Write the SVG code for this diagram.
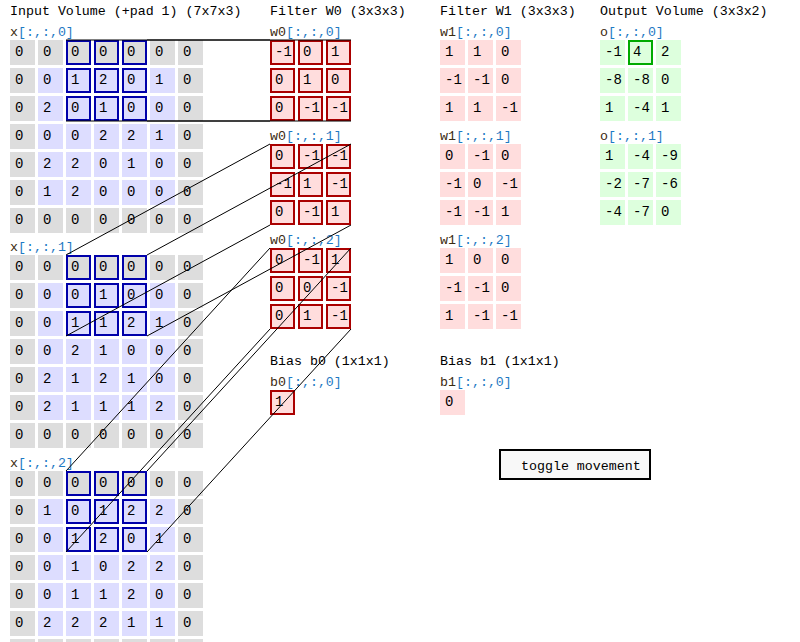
<svg xmlns="http://www.w3.org/2000/svg" width="800" height="642" viewBox="0 0 800 642">
<style>
.t{font-family:"Liberation Mono","DejaVu Sans Mono",monospace;font-size:14px;fill:#000}
.h{font-family:"Liberation Mono","DejaVu Sans Mono",monospace;font-size:13.3px;fill:#000}
.lb{font-family:"Liberation Mono","DejaVu Sans Mono",monospace;font-size:13.3px;fill:#1f7ac4}
.nm{fill:#3a2a10}
.p{fill:#ddd}.i{fill:#ddf}.f{fill:#fdd}.o{fill:#dfd}
.fr{fill:#fdd;stroke:#a00;stroke-width:2}
.hb{fill:none;stroke:#00a;stroke-width:2}
.hg{fill:none;stroke:#0a0;stroke-width:2}
.lk{stroke:#000;stroke-width:1;fill:none}
</style>
<rect width="800" height="642" fill="#fff"/>
<text class="h" x="10" y="15">Input Volume (+pad 1) (7x7x3)</text>
<text class="h" x="270" y="15">Filter W0 (3x3x3)</text>
<text class="h" x="440" y="15">Filter W1 (3x3x3)</text>
<text class="h" x="600" y="15">Output Volume (3x3x2)</text>

<g id="x0">
<text class="lb" x="10" y="36"><tspan class="nm">x</tspan>[:,:,0]</text>
<g transform="translate(10,40)">
<rect class="p" x="0" y="0" width="25" height="25"/><rect class="p" x="28" y="0" width="25" height="25"/><rect class="p" x="56" y="0" width="25" height="25"/><rect class="p" x="84" y="0" width="25" height="25"/><rect class="p" x="112" y="0" width="25" height="25"/><rect class="p" x="140" y="0" width="25" height="25"/><rect class="p" x="168" y="0" width="25" height="25"/>
<rect class="p" x="0" y="28" width="25" height="25"/><rect class="i" x="28" y="28" width="25" height="25"/><rect class="i" x="56" y="28" width="25" height="25"/><rect class="i" x="84" y="28" width="25" height="25"/><rect class="i" x="112" y="28" width="25" height="25"/><rect class="i" x="140" y="28" width="25" height="25"/><rect class="p" x="168" y="28" width="25" height="25"/>
<rect class="p" x="0" y="56" width="25" height="25"/><rect class="i" x="28" y="56" width="25" height="25"/><rect class="i" x="56" y="56" width="25" height="25"/><rect class="i" x="84" y="56" width="25" height="25"/><rect class="i" x="112" y="56" width="25" height="25"/><rect class="i" x="140" y="56" width="25" height="25"/><rect class="p" x="168" y="56" width="25" height="25"/>
<rect class="p" x="0" y="84" width="25" height="25"/><rect class="i" x="28" y="84" width="25" height="25"/><rect class="i" x="56" y="84" width="25" height="25"/><rect class="i" x="84" y="84" width="25" height="25"/><rect class="i" x="112" y="84" width="25" height="25"/><rect class="i" x="140" y="84" width="25" height="25"/><rect class="p" x="168" y="84" width="25" height="25"/>
<rect class="p" x="0" y="112" width="25" height="25"/><rect class="i" x="28" y="112" width="25" height="25"/><rect class="i" x="56" y="112" width="25" height="25"/><rect class="i" x="84" y="112" width="25" height="25"/><rect class="i" x="112" y="112" width="25" height="25"/><rect class="i" x="140" y="112" width="25" height="25"/><rect class="p" x="168" y="112" width="25" height="25"/>
<rect class="p" x="0" y="140" width="25" height="25"/><rect class="i" x="28" y="140" width="25" height="25"/><rect class="i" x="56" y="140" width="25" height="25"/><rect class="i" x="84" y="140" width="25" height="25"/><rect class="i" x="112" y="140" width="25" height="25"/><rect class="i" x="140" y="140" width="25" height="25"/><rect class="p" x="168" y="140" width="25" height="25"/>
<rect class="p" x="0" y="168" width="25" height="25"/><rect class="p" x="28" y="168" width="25" height="25"/><rect class="p" x="56" y="168" width="25" height="25"/><rect class="p" x="84" y="168" width="25" height="25"/><rect class="p" x="112" y="168" width="25" height="25"/><rect class="p" x="140" y="168" width="25" height="25"/><rect class="p" x="168" y="168" width="25" height="25"/>
<rect class="hb" x="57" y="1" width="23" height="23"/><rect class="hb" x="85" y="1" width="23" height="23"/><rect class="hb" x="113" y="1" width="23" height="23"/>
<rect class="hb" x="57" y="29" width="23" height="23"/><rect class="hb" x="85" y="29" width="23" height="23"/><rect class="hb" x="113" y="29" width="23" height="23"/>
<rect class="hb" x="57" y="57" width="23" height="23"/><rect class="hb" x="85" y="57" width="23" height="23"/><rect class="hb" x="113" y="57" width="23" height="23"/>
<text class="t" x="5" y="16">0</text><text class="t" x="33" y="16">0</text><text class="t" x="61" y="16">0</text><text class="t" x="89" y="16">0</text><text class="t" x="117" y="16">0</text><text class="t" x="145" y="16">0</text><text class="t" x="173" y="16">0</text>
<text class="t" x="5" y="44">0</text><text class="t" x="33" y="44">0</text><text class="t" x="61" y="44">1</text><text class="t" x="89" y="44">2</text><text class="t" x="117" y="44">0</text><text class="t" x="145" y="44">1</text><text class="t" x="173" y="44">0</text>
<text class="t" x="5" y="72">0</text><text class="t" x="33" y="72">2</text><text class="t" x="61" y="72">0</text><text class="t" x="89" y="72">1</text><text class="t" x="117" y="72">0</text><text class="t" x="145" y="72">0</text><text class="t" x="173" y="72">0</text>
<text class="t" x="5" y="100">0</text><text class="t" x="33" y="100">0</text><text class="t" x="61" y="100">0</text><text class="t" x="89" y="100">2</text><text class="t" x="117" y="100">2</text><text class="t" x="145" y="100">1</text><text class="t" x="173" y="100">0</text>
<text class="t" x="5" y="128">0</text><text class="t" x="33" y="128">2</text><text class="t" x="61" y="128">2</text><text class="t" x="89" y="128">0</text><text class="t" x="117" y="128">1</text><text class="t" x="145" y="128">0</text><text class="t" x="173" y="128">0</text>
<text class="t" x="5" y="156">0</text><text class="t" x="33" y="156">1</text><text class="t" x="61" y="156">2</text><text class="t" x="89" y="156">0</text><text class="t" x="117" y="156">0</text><text class="t" x="145" y="156">0</text><text class="t" x="173" y="156">0</text>
<text class="t" x="5" y="184">0</text><text class="t" x="33" y="184">0</text><text class="t" x="61" y="184">0</text><text class="t" x="89" y="184">0</text><text class="t" x="117" y="184">0</text><text class="t" x="145" y="184">0</text><text class="t" x="173" y="184">0</text>
</g>
</g>

<g id="x1">
<text class="lb" x="10" y="251"><tspan class="nm">x</tspan>[:,:,1]</text>
<g transform="translate(10,255)">
<rect class="p" x="0" y="0" width="25" height="25"/><rect class="p" x="28" y="0" width="25" height="25"/><rect class="p" x="56" y="0" width="25" height="25"/><rect class="p" x="84" y="0" width="25" height="25"/><rect class="p" x="112" y="0" width="25" height="25"/><rect class="p" x="140" y="0" width="25" height="25"/><rect class="p" x="168" y="0" width="25" height="25"/>
<rect class="p" x="0" y="28" width="25" height="25"/><rect class="i" x="28" y="28" width="25" height="25"/><rect class="i" x="56" y="28" width="25" height="25"/><rect class="i" x="84" y="28" width="25" height="25"/><rect class="i" x="112" y="28" width="25" height="25"/><rect class="i" x="140" y="28" width="25" height="25"/><rect class="p" x="168" y="28" width="25" height="25"/>
<rect class="p" x="0" y="56" width="25" height="25"/><rect class="i" x="28" y="56" width="25" height="25"/><rect class="i" x="56" y="56" width="25" height="25"/><rect class="i" x="84" y="56" width="25" height="25"/><rect class="i" x="112" y="56" width="25" height="25"/><rect class="i" x="140" y="56" width="25" height="25"/><rect class="p" x="168" y="56" width="25" height="25"/>
<rect class="p" x="0" y="84" width="25" height="25"/><rect class="i" x="28" y="84" width="25" height="25"/><rect class="i" x="56" y="84" width="25" height="25"/><rect class="i" x="84" y="84" width="25" height="25"/><rect class="i" x="112" y="84" width="25" height="25"/><rect class="i" x="140" y="84" width="25" height="25"/><rect class="p" x="168" y="84" width="25" height="25"/>
<rect class="p" x="0" y="112" width="25" height="25"/><rect class="i" x="28" y="112" width="25" height="25"/><rect class="i" x="56" y="112" width="25" height="25"/><rect class="i" x="84" y="112" width="25" height="25"/><rect class="i" x="112" y="112" width="25" height="25"/><rect class="i" x="140" y="112" width="25" height="25"/><rect class="p" x="168" y="112" width="25" height="25"/>
<rect class="p" x="0" y="140" width="25" height="25"/><rect class="i" x="28" y="140" width="25" height="25"/><rect class="i" x="56" y="140" width="25" height="25"/><rect class="i" x="84" y="140" width="25" height="25"/><rect class="i" x="112" y="140" width="25" height="25"/><rect class="i" x="140" y="140" width="25" height="25"/><rect class="p" x="168" y="140" width="25" height="25"/>
<rect class="p" x="0" y="168" width="25" height="25"/><rect class="p" x="28" y="168" width="25" height="25"/><rect class="p" x="56" y="168" width="25" height="25"/><rect class="p" x="84" y="168" width="25" height="25"/><rect class="p" x="112" y="168" width="25" height="25"/><rect class="p" x="140" y="168" width="25" height="25"/><rect class="p" x="168" y="168" width="25" height="25"/>
<rect class="hb" x="57" y="1" width="23" height="23"/><rect class="hb" x="85" y="1" width="23" height="23"/><rect class="hb" x="113" y="1" width="23" height="23"/>
<rect class="hb" x="57" y="29" width="23" height="23"/><rect class="hb" x="85" y="29" width="23" height="23"/><rect class="hb" x="113" y="29" width="23" height="23"/>
<rect class="hb" x="57" y="57" width="23" height="23"/><rect class="hb" x="85" y="57" width="23" height="23"/><rect class="hb" x="113" y="57" width="23" height="23"/>
<text class="t" x="5" y="16">0</text><text class="t" x="33" y="16">0</text><text class="t" x="61" y="16">0</text><text class="t" x="89" y="16">0</text><text class="t" x="117" y="16">0</text><text class="t" x="145" y="16">0</text><text class="t" x="173" y="16">0</text>
<text class="t" x="5" y="44">0</text><text class="t" x="33" y="44">0</text><text class="t" x="61" y="44">0</text><text class="t" x="89" y="44">1</text><text class="t" x="117" y="44">0</text><text class="t" x="145" y="44">0</text><text class="t" x="173" y="44">0</text>
<text class="t" x="5" y="72">0</text><text class="t" x="33" y="72">0</text><text class="t" x="61" y="72">1</text><text class="t" x="89" y="72">1</text><text class="t" x="117" y="72">2</text><text class="t" x="145" y="72">1</text><text class="t" x="173" y="72">0</text>
<text class="t" x="5" y="100">0</text><text class="t" x="33" y="100">0</text><text class="t" x="61" y="100">2</text><text class="t" x="89" y="100">1</text><text class="t" x="117" y="100">0</text><text class="t" x="145" y="100">0</text><text class="t" x="173" y="100">0</text>
<text class="t" x="5" y="128">0</text><text class="t" x="33" y="128">2</text><text class="t" x="61" y="128">1</text><text class="t" x="89" y="128">2</text><text class="t" x="117" y="128">1</text><text class="t" x="145" y="128">0</text><text class="t" x="173" y="128">0</text>
<text class="t" x="5" y="156">0</text><text class="t" x="33" y="156">2</text><text class="t" x="61" y="156">1</text><text class="t" x="89" y="156">1</text><text class="t" x="117" y="156">1</text><text class="t" x="145" y="156">2</text><text class="t" x="173" y="156">0</text>
<text class="t" x="5" y="184">0</text><text class="t" x="33" y="184">0</text><text class="t" x="61" y="184">0</text><text class="t" x="89" y="184">0</text><text class="t" x="117" y="184">0</text><text class="t" x="145" y="184">0</text><text class="t" x="173" y="184">0</text>
</g>
</g>

<g id="x2">
<text class="lb" x="10" y="467"><tspan class="nm">x</tspan>[:,:,2]</text>
<g transform="translate(10,471)">
<rect class="p" x="0" y="0" width="25" height="25"/><rect class="p" x="28" y="0" width="25" height="25"/><rect class="p" x="56" y="0" width="25" height="25"/><rect class="p" x="84" y="0" width="25" height="25"/><rect class="p" x="112" y="0" width="25" height="25"/><rect class="p" x="140" y="0" width="25" height="25"/><rect class="p" x="168" y="0" width="25" height="25"/>
<rect class="p" x="0" y="28" width="25" height="25"/><rect class="i" x="28" y="28" width="25" height="25"/><rect class="i" x="56" y="28" width="25" height="25"/><rect class="i" x="84" y="28" width="25" height="25"/><rect class="i" x="112" y="28" width="25" height="25"/><rect class="i" x="140" y="28" width="25" height="25"/><rect class="p" x="168" y="28" width="25" height="25"/>
<rect class="p" x="0" y="56" width="25" height="25"/><rect class="i" x="28" y="56" width="25" height="25"/><rect class="i" x="56" y="56" width="25" height="25"/><rect class="i" x="84" y="56" width="25" height="25"/><rect class="i" x="112" y="56" width="25" height="25"/><rect class="i" x="140" y="56" width="25" height="25"/><rect class="p" x="168" y="56" width="25" height="25"/>
<rect class="p" x="0" y="84" width="25" height="25"/><rect class="i" x="28" y="84" width="25" height="25"/><rect class="i" x="56" y="84" width="25" height="25"/><rect class="i" x="84" y="84" width="25" height="25"/><rect class="i" x="112" y="84" width="25" height="25"/><rect class="i" x="140" y="84" width="25" height="25"/><rect class="p" x="168" y="84" width="25" height="25"/>
<rect class="p" x="0" y="112" width="25" height="25"/><rect class="i" x="28" y="112" width="25" height="25"/><rect class="i" x="56" y="112" width="25" height="25"/><rect class="i" x="84" y="112" width="25" height="25"/><rect class="i" x="112" y="112" width="25" height="25"/><rect class="i" x="140" y="112" width="25" height="25"/><rect class="p" x="168" y="112" width="25" height="25"/>
<rect class="p" x="0" y="140" width="25" height="25"/><rect class="i" x="28" y="140" width="25" height="25"/><rect class="i" x="56" y="140" width="25" height="25"/><rect class="i" x="84" y="140" width="25" height="25"/><rect class="i" x="112" y="140" width="25" height="25"/><rect class="i" x="140" y="140" width="25" height="25"/><rect class="p" x="168" y="140" width="25" height="25"/>
<rect class="p" x="0" y="168" width="25" height="25"/><rect class="p" x="28" y="168" width="25" height="25"/><rect class="p" x="56" y="168" width="25" height="25"/><rect class="p" x="84" y="168" width="25" height="25"/><rect class="p" x="112" y="168" width="25" height="25"/><rect class="p" x="140" y="168" width="25" height="25"/><rect class="p" x="168" y="168" width="25" height="25"/>
<rect class="hb" x="57" y="1" width="23" height="23"/><rect class="hb" x="85" y="1" width="23" height="23"/><rect class="hb" x="113" y="1" width="23" height="23"/>
<rect class="hb" x="57" y="29" width="23" height="23"/><rect class="hb" x="85" y="29" width="23" height="23"/><rect class="hb" x="113" y="29" width="23" height="23"/>
<rect class="hb" x="57" y="57" width="23" height="23"/><rect class="hb" x="85" y="57" width="23" height="23"/><rect class="hb" x="113" y="57" width="23" height="23"/>
<text class="t" x="5" y="16">0</text><text class="t" x="33" y="16">0</text><text class="t" x="61" y="16">0</text><text class="t" x="89" y="16">0</text><text class="t" x="117" y="16">0</text><text class="t" x="145" y="16">0</text><text class="t" x="173" y="16">0</text>
<text class="t" x="5" y="44">0</text><text class="t" x="33" y="44">1</text><text class="t" x="61" y="44">0</text><text class="t" x="89" y="44">1</text><text class="t" x="117" y="44">2</text><text class="t" x="145" y="44">2</text><text class="t" x="173" y="44">0</text>
<text class="t" x="5" y="72">0</text><text class="t" x="33" y="72">0</text><text class="t" x="61" y="72">1</text><text class="t" x="89" y="72">2</text><text class="t" x="117" y="72">0</text><text class="t" x="145" y="72">1</text><text class="t" x="173" y="72">0</text>
<text class="t" x="5" y="100">0</text><text class="t" x="33" y="100">0</text><text class="t" x="61" y="100">1</text><text class="t" x="89" y="100">0</text><text class="t" x="117" y="100">2</text><text class="t" x="145" y="100">2</text><text class="t" x="173" y="100">0</text>
<text class="t" x="5" y="128">0</text><text class="t" x="33" y="128">0</text><text class="t" x="61" y="128">1</text><text class="t" x="89" y="128">1</text><text class="t" x="117" y="128">2</text><text class="t" x="145" y="128">0</text><text class="t" x="173" y="128">0</text>
<text class="t" x="5" y="156">0</text><text class="t" x="33" y="156">2</text><text class="t" x="61" y="156">2</text><text class="t" x="89" y="156">2</text><text class="t" x="117" y="156">1</text><text class="t" x="145" y="156">1</text><text class="t" x="173" y="156">0</text>
</g>
</g>

<g id="w0">
<text class="lb" x="270" y="36"><tspan class="nm">w0</tspan>[:,:,0]</text>
<g transform="translate(270,40)">
<rect class="fr" x="1" y="1" width="23" height="23"/><rect class="fr" x="29" y="1" width="23" height="23"/><rect class="fr" x="57" y="1" width="23" height="23"/>
<rect class="fr" x="1" y="29" width="23" height="23"/><rect class="fr" x="29" y="29" width="23" height="23"/><rect class="fr" x="57" y="29" width="23" height="23"/>
<rect class="fr" x="1" y="57" width="23" height="23"/><rect class="fr" x="29" y="57" width="23" height="23"/><rect class="fr" x="57" y="57" width="23" height="23"/>
<text class="t" x="5" y="16">-1</text><text class="t" x="33" y="16">0</text><text class="t" x="61" y="16">1</text>
<text class="t" x="5" y="44">0</text><text class="t" x="33" y="44">1</text><text class="t" x="61" y="44">0</text>
<text class="t" x="5" y="72">0</text><text class="t" x="33" y="72">-1</text><text class="t" x="61" y="72">-1</text>
</g>
<text class="lb" x="270" y="140"><tspan class="nm">w0</tspan>[:,:,1]</text>
<g transform="translate(270,144)">
<rect class="fr" x="1" y="1" width="23" height="23"/><rect class="fr" x="29" y="1" width="23" height="23"/><rect class="fr" x="57" y="1" width="23" height="23"/>
<rect class="fr" x="1" y="29" width="23" height="23"/><rect class="fr" x="29" y="29" width="23" height="23"/><rect class="fr" x="57" y="29" width="23" height="23"/>
<rect class="fr" x="1" y="57" width="23" height="23"/><rect class="fr" x="29" y="57" width="23" height="23"/><rect class="fr" x="57" y="57" width="23" height="23"/>
<text class="t" x="5" y="16">0</text><text class="t" x="33" y="16">-1</text><text class="t" x="61" y="16">-1</text>
<text class="t" x="5" y="44">-1</text><text class="t" x="33" y="44">1</text><text class="t" x="61" y="44">-1</text>
<text class="t" x="5" y="72">0</text><text class="t" x="33" y="72">-1</text><text class="t" x="61" y="72">1</text>
</g>
<text class="lb" x="270" y="244"><tspan class="nm">w0</tspan>[:,:,2]</text>
<g transform="translate(270,248)">
<rect class="fr" x="1" y="1" width="23" height="23"/><rect class="fr" x="29" y="1" width="23" height="23"/><rect class="fr" x="57" y="1" width="23" height="23"/>
<rect class="fr" x="1" y="29" width="23" height="23"/><rect class="fr" x="29" y="29" width="23" height="23"/><rect class="fr" x="57" y="29" width="23" height="23"/>
<rect class="fr" x="1" y="57" width="23" height="23"/><rect class="fr" x="29" y="57" width="23" height="23"/><rect class="fr" x="57" y="57" width="23" height="23"/>
<text class="t" x="5" y="16">0</text><text class="t" x="33" y="16">-1</text><text class="t" x="61" y="16">1</text>
<text class="t" x="5" y="44">0</text><text class="t" x="33" y="44">0</text><text class="t" x="61" y="44">-1</text>
<text class="t" x="5" y="72">0</text><text class="t" x="33" y="72">1</text><text class="t" x="61" y="72">-1</text>
</g>
</g>

<g id="b0">
<text class="h" x="270" y="365">Bias b0 (1x1x1)</text>
<text class="lb" x="270" y="386"><tspan class="nm">b0</tspan>[:,:,0]</text>
<rect class="fr" x="271" y="391" width="23" height="23"/>
<text class="t" x="275" y="406">1</text>
</g>

<g id="w1">
<text class="lb" x="440" y="36"><tspan class="nm">w1</tspan>[:,:,0]</text>
<g transform="translate(440,40)">
<rect class="f" x="0" y="0" width="25" height="25"/><rect class="f" x="28" y="0" width="25" height="25"/><rect class="f" x="56" y="0" width="25" height="25"/>
<rect class="f" x="0" y="28" width="25" height="25"/><rect class="f" x="28" y="28" width="25" height="25"/><rect class="f" x="56" y="28" width="25" height="25"/>
<rect class="f" x="0" y="56" width="25" height="25"/><rect class="f" x="28" y="56" width="25" height="25"/><rect class="f" x="56" y="56" width="25" height="25"/>
<text class="t" x="5" y="16">1</text><text class="t" x="33" y="16">1</text><text class="t" x="61" y="16">0</text>
<text class="t" x="5" y="44">-1</text><text class="t" x="33" y="44">-1</text><text class="t" x="61" y="44">0</text>
<text class="t" x="5" y="72">1</text><text class="t" x="33" y="72">1</text><text class="t" x="61" y="72">-1</text>
</g>
<text class="lb" x="440" y="140"><tspan class="nm">w1</tspan>[:,:,1]</text>
<g transform="translate(440,144)">
<rect class="f" x="0" y="0" width="25" height="25"/><rect class="f" x="28" y="0" width="25" height="25"/><rect class="f" x="56" y="0" width="25" height="25"/>
<rect class="f" x="0" y="28" width="25" height="25"/><rect class="f" x="28" y="28" width="25" height="25"/><rect class="f" x="56" y="28" width="25" height="25"/>
<rect class="f" x="0" y="56" width="25" height="25"/><rect class="f" x="28" y="56" width="25" height="25"/><rect class="f" x="56" y="56" width="25" height="25"/>
<text class="t" x="5" y="16">0</text><text class="t" x="33" y="16">-1</text><text class="t" x="61" y="16">0</text>
<text class="t" x="5" y="44">-1</text><text class="t" x="33" y="44">0</text><text class="t" x="61" y="44">-1</text>
<text class="t" x="5" y="72">-1</text><text class="t" x="33" y="72">-1</text><text class="t" x="61" y="72">1</text>
</g>
<text class="lb" x="440" y="244"><tspan class="nm">w1</tspan>[:,:,2]</text>
<g transform="translate(440,248)">
<rect class="f" x="0" y="0" width="25" height="25"/><rect class="f" x="28" y="0" width="25" height="25"/><rect class="f" x="56" y="0" width="25" height="25"/>
<rect class="f" x="0" y="28" width="25" height="25"/><rect class="f" x="28" y="28" width="25" height="25"/><rect class="f" x="56" y="28" width="25" height="25"/>
<rect class="f" x="0" y="56" width="25" height="25"/><rect class="f" x="28" y="56" width="25" height="25"/><rect class="f" x="56" y="56" width="25" height="25"/>
<text class="t" x="5" y="16">1</text><text class="t" x="33" y="16">0</text><text class="t" x="61" y="16">0</text>
<text class="t" x="5" y="44">-1</text><text class="t" x="33" y="44">-1</text><text class="t" x="61" y="44">0</text>
<text class="t" x="5" y="72">1</text><text class="t" x="33" y="72">-1</text><text class="t" x="61" y="72">-1</text>
</g>
</g>

<g id="b1">
<text class="h" x="440" y="365">Bias b1 (1x1x1)</text>
<text class="lb" x="440" y="386"><tspan class="nm">b1</tspan>[:,:,0]</text>
<rect class="f" x="440" y="390" width="25" height="25"/>
<text class="t" x="445" y="406">0</text>
</g>

<g id="out">
<text class="lb" x="600" y="36"><tspan class="nm">o</tspan>[:,:,0]</text>
<g transform="translate(600,40)">
<rect class="o" x="0" y="0" width="25" height="25"/><rect class="o" x="28" y="0" width="25" height="25"/><rect class="o" x="56" y="0" width="25" height="25"/>
<rect class="o" x="0" y="28" width="25" height="25"/><rect class="o" x="28" y="28" width="25" height="25"/><rect class="o" x="56" y="28" width="25" height="25"/>
<rect class="o" x="0" y="56" width="25" height="25"/><rect class="o" x="28" y="56" width="25" height="25"/><rect class="o" x="56" y="56" width="25" height="25"/>
<rect class="hg" x="29" y="1" width="23" height="23"/>
<text class="t" x="5" y="16">-1</text><text class="t" x="33" y="16">4</text><text class="t" x="61" y="16">2</text>
<text class="t" x="5" y="44">-8</text><text class="t" x="33" y="44">-8</text><text class="t" x="61" y="44">0</text>
<text class="t" x="5" y="72">1</text><text class="t" x="33" y="72">-4</text><text class="t" x="61" y="72">1</text>
</g>
<text class="lb" x="600" y="140"><tspan class="nm">o</tspan>[:,:,1]</text>
<g transform="translate(600,144)">
<rect class="o" x="0" y="0" width="25" height="25"/><rect class="o" x="28" y="0" width="25" height="25"/><rect class="o" x="56" y="0" width="25" height="25"/>
<rect class="o" x="0" y="28" width="25" height="25"/><rect class="o" x="28" y="28" width="25" height="25"/><rect class="o" x="56" y="28" width="25" height="25"/>
<rect class="o" x="0" y="56" width="25" height="25"/><rect class="o" x="28" y="56" width="25" height="25"/><rect class="o" x="56" y="56" width="25" height="25"/>
<text class="t" x="5" y="16">1</text><text class="t" x="33" y="16">-4</text><text class="t" x="61" y="16">-9</text>
<text class="t" x="5" y="44">-2</text><text class="t" x="33" y="44">-7</text><text class="t" x="61" y="44">-6</text>
<text class="t" x="5" y="72">-4</text><text class="t" x="33" y="72">-7</text><text class="t" x="61" y="72">0</text>
</g>
</g>

<g id="toggle">
<rect x="500" y="450" width="150" height="29" fill="#f8f8f8" stroke="#000" stroke-width="2"/>
<text class="h" x="521" y="470">toggle movement</text>
</g>

<g id="connectors" class="lk">
<line x1="66" y1="40" x2="270" y2="40"/>
<line x1="147" y1="40" x2="351" y2="40"/>
<line x1="66" y1="121" x2="270" y2="121"/>
<line x1="147" y1="121" x2="351" y2="121"/>
<line x1="66" y1="255" x2="270" y2="144"/>
<line x1="147" y1="255" x2="351" y2="144"/>
<line x1="66" y1="336" x2="270" y2="225"/>
<line x1="147" y1="336" x2="351" y2="225"/>
<line x1="66" y1="471" x2="270" y2="248"/>
<line x1="147" y1="471" x2="351" y2="248"/>
<line x1="66" y1="552" x2="270" y2="329"/>
<line x1="147" y1="552" x2="351" y2="329"/>
</g>
</svg>
